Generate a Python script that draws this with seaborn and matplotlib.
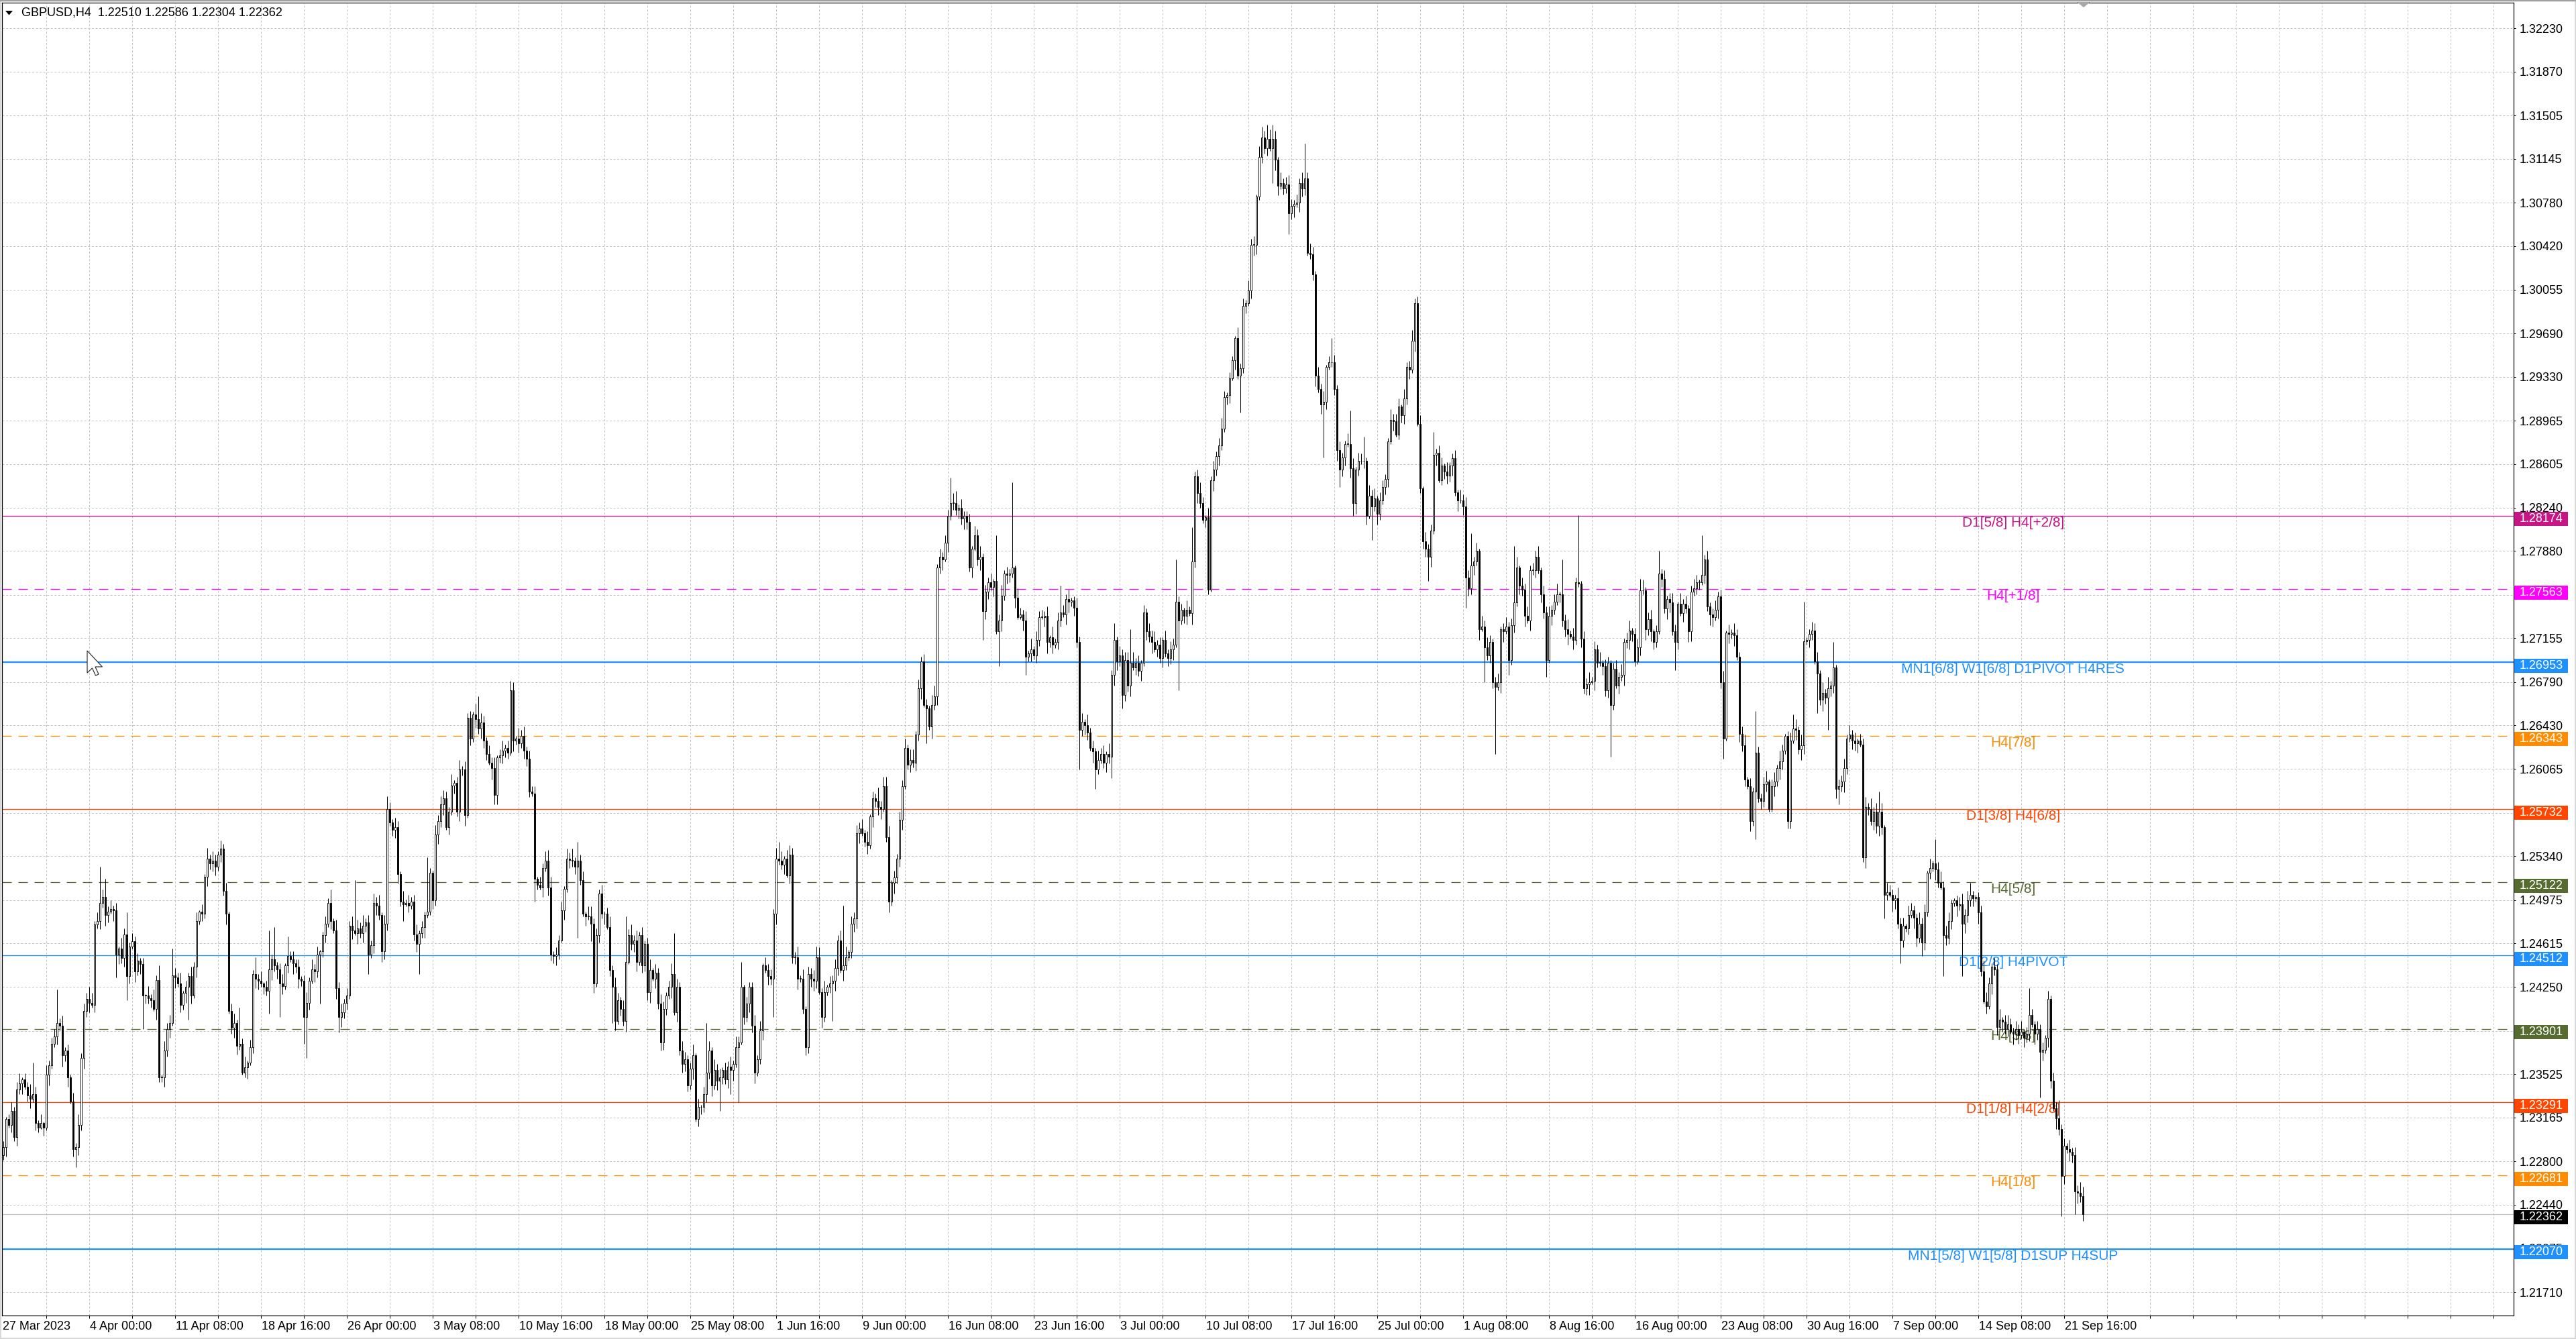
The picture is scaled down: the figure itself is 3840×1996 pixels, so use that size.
import numpy as np
import pandas as pd
import matplotlib
matplotlib.use("Agg")
import matplotlib.pyplot as plt
import matplotlib.transforms as mtransforms
from matplotlib.patches import Rectangle, Polygon
import seaborn as sns

# ---------------------------------------------------------------- data
header_symbol = "GBPUSD,H4"
header_ohlc = ["1.22510", "1.22586", "1.22304", "1.22362"]

price_base = 1.20000      # prices below are pips above this base
pip = 0.0001
first_bar = 3             # bar 0 = 27 Mar 2023 00:00 (H4 bars, weekdays only)
first_open = 283.0

close_pips = [
    285, 292, 315, 310, 322, 300, 340, 345, 348, 342, 335, 332, 336, 312, 308, 312, 308, 352, 360, 378,
    384, 395, 393, 368, 372, 350, 330, 290, 292, 310, 366, 405, 415, 412, 410, 477, 480, 495, 500, 485,
    488, 490, 489, 452, 457, 449, 469, 434, 459, 463, 438, 447, 444, 418, 418, 416, 414, 407, 431, 350,
    350, 372, 390, 395, 435, 433, 428, 410, 420, 425, 434, 418, 442, 480, 488, 486, 517, 532, 528, 530,
    525, 535, 540, 505, 486, 405, 391, 395, 376, 378, 354, 358, 362, 375, 436, 432, 430, 428, 425, 422,
    440, 448, 443, 440, 428, 426, 443, 451, 448, 445, 442, 432, 430, 400, 412, 430, 440, 438, 452, 455,
    468, 478, 495, 480, 472, 424, 400, 404, 412, 418, 476, 472, 470, 474, 470, 476, 479, 452, 460, 495,
    493, 485, 455, 478, 573, 562, 556, 558, 519, 496, 494, 495, 493, 496, 469, 461, 470, 475, 485, 488,
    520, 497, 552, 563, 577, 582, 558, 571, 593, 595, 571, 606, 606, 568, 649, 632, 652, 648, 640, 645,
    630, 619, 612, 607, 585, 616, 618, 622, 624, 620, 672, 630, 632, 628, 634, 622, 615, 588, 586, 515,
    510, 508, 524, 530, 508, 452, 451, 452, 464, 489, 507, 532, 531, 530, 525, 530, 514, 486, 484, 484,
    478, 428, 468, 503, 486, 486, 475, 439, 425, 397, 414, 407, 397, 446, 468, 461, 464, 446, 468, 443,
    461, 421, 439, 432, 437, 411, 379, 407, 418, 425, 436, 404, 425, 372, 361, 365, 343, 357, 368, 315,
    325, 325, 336, 354, 372, 343, 356, 347, 350, 356, 348, 359, 356, 361, 375, 379, 425, 400, 411, 425,
    393, 354, 365, 389, 443, 439, 434, 432, 486, 532, 530, 527, 532, 518, 535, 450, 450, 432, 432, 407,
    375, 436, 432, 430, 450, 421, 400, 421, 425, 428, 430, 441, 464, 439, 443, 450, 454, 478, 482, 553,
    557, 553, 546, 543, 567, 582, 580, 575, 573, 592, 550, 496, 512, 516, 532, 564, 592, 624, 610, 614,
    612, 635, 674, 696, 660, 657, 642, 660, 667, 774, 783, 781, 795, 817, 828, 828, 822, 824, 815, 817,
    812, 774, 790, 801, 781, 783, 738, 754, 762, 758, 763, 721, 730, 751, 769, 768, 769, 774, 749, 733,
    735, 730, 700, 703, 706, 701, 714, 733, 733, 734, 712, 716, 710, 712, 730, 737, 735, 748, 746, 747,
    741, 712, 639, 646, 643, 637, 624, 621, 606, 614, 619, 612, 619, 617, 685, 714, 696, 701, 668, 697,
    676, 695, 691, 695, 688, 695, 737, 721, 717, 712, 706, 710, 699, 714, 703, 699, 706, 710, 746, 730,
    739, 734, 739, 736, 779, 850, 836, 828, 814, 816, 756, 847, 856, 867, 876, 890, 916, 918, 932, 947,
    965, 934, 940, 992, 994, 1005, 1043, 1043, 1083, 1116, 1132, 1123, 1131, 1123, 1131, 1114, 1092, 1094, 1090, 1093,
    1069, 1075, 1077, 1078, 1094, 1090, 1098, 1036, 1035, 1018, 934, 923, 910, 912, 941, 945, 945, 923, 872, 856,
    866, 877, 877, 857, 828, 856, 863, 863, 863, 817, 834, 825, 832, 819, 830, 841, 848, 879, 897, 896,
    885, 908, 901, 915, 941, 939, 963, 994, 894, 840, 796, 790, 783, 805, 868, 870, 847, 859, 854, 851,
    859, 865, 837, 830, 830, 825, 766, 757, 776, 779, 788, 723, 725, 708, 701, 712, 679, 675, 679, 723,
    721, 725, 697, 726, 745, 774, 759, 756, 734, 730, 772, 772, 783, 772, 752, 737, 697, 734, 739, 746,
    752, 752, 730, 723, 719, 717, 714, 762, 761, 715, 674, 677, 679, 680, 706, 695, 695, 692, 672, 695,
    660, 690, 676, 683, 685, 712, 714, 722, 719, 696, 708, 755, 755, 723, 731, 721, 712, 721, 769, 765,
    740, 748, 745, 721, 712, 744, 736, 744, 740, 721, 754, 757, 762, 762, 768, 781, 742, 735, 733, 739,
    750, 679, 632, 720, 719, 720, 718, 700, 636, 626, 598, 592, 563, 588, 620, 582, 580, 594, 596, 573,
    592, 596, 607, 613, 622, 634, 563, 630, 640, 639, 623, 626, 713, 714, 719, 722, 696, 686, 664, 670,
    666, 674, 676, 691, 590, 592, 596, 607, 632, 635, 630, 628, 630, 627, 533, 575, 573, 563, 571, 559,
    571, 558, 502, 504, 502, 497, 499, 478, 464, 476, 474, 485, 489, 483, 466, 478, 462, 487, 520, 524,
    528, 523, 512, 508, 468, 466, 480, 495, 497, 493, 494, 478, 485, 497, 502, 499, 500, 487, 438, 413,
    409, 428, 442, 440, 392, 398, 396, 390, 394, 388, 386, 390, 385, 388, 383, 386, 402, 394, 386, 390,
    371, 373, 383, 415, 347, 324, 316, 307, 268, 293, 290, 288, 285, 255, 254, 251, 236.2,
]

# ordinary wick lengths (pips), one digit per bar
up_wick_digits = (
    "35247368254936271845" "62483527394652837461" "47362958374625183947" "28573649253847162938"
    "53947268354926374815" "74635829473625938471" "36482957364827593648" "59274638529374682537"
    "42857364925837462958" "63749258364729583746" "27485936472859364728" "84637259486372594837"
    "35927486359274863592" "72648395726483957264" "49382756493827564938" "26574839265748392657"
    "58392647583926475839" "93746528937465289374" "47285936472859364728" "64829375648293756482"
    "38572946385729463857" "75946283759462837594" "52837469528374695283" "29463857294638572946"
    "86374925863749258637" "43958276439582764395" "67284593672845936728" "34729586347295863472"
    "58463927584639275846" "92658374926583749265" "25749368257493682574" "73586294735862947358"
    "46927385469273854692" "68395247683952476839" "39472658394726583947" "57286439572864395728"
    "24695873246958732469" "85374926853749268537" "46283759462837594628"
)
low_wick_digits = (
    "54826374925836417293" "37495826374958263749" "62938475629384756293" "48572936485729364857"
    "73649258736492587364" "29584736295847362958" "56372948563729485637" "84926357849263578492"
    "37485926374859263748" "65293847652938476529" "42837569428375694283" "78364925783649257836"
    "53928476539284765392" "26475938264759382647" "69348275693482756934" "35786294357862943578"
    "82463957824639578246" "47592836475928364759" "63825947638259476382" "28947365289473652894"
    "74358629743586297435" "59264837592648375926" "36729584367295843672" "83546279835462798354"
    "45938762459387624593" "67284953672849536728" "24675839246758392467" "58392746583927465839"
    "92846375928463759284" "37569284375692843756" "64273958642739586427" "49835627498356274983"
    "75628493756284937562" "28497365284973652849" "53768249537682495376" "86352974863529748635"
    "39428657394286573942" "62957384629573846295" "47386295473862954738"
)
# long wicks (bar index: pips)
up_wick_spikes = {
    15: 26, 24: 28, 36: 10, 40: 30, 42: 15, 50: 18, 62: 12, 67: 22, 85: 7, 92: 30, 98: 14, 103: 32,
    105: 27, 110: 16, 126: 11, 135: 42, 147: 11, 162: 45, 168: 7, 181: 19, 193: 8, 207: 9, 218: 16,
    219: 5, 236: 38, 254: 34, 266: 41, 279: 21, 293: 14, 297: 8, 307: 9, 317: 50, 330: 11, 333: 8,
    357: 21, 359: 10, 374: 38, 380: 71, 398: 22, 418: 14, 424: 28, 429: 6, 441: 35, 447: 29, 461: 5,
    473: 9, 475: 12, 477: 12, 489: 29, 499: 20, 506: 28, 511: 20, 530: 4, 537: 19, 551: 27, 567: 47,
    575: 5, 585: 29, 591: 56, 614: 10, 621: 19, 637: 33, 657: 35, 671: 12, 675: 33, 686: 21, 692: 8,
    703: 17, 724: 20, 737: 10, 759: 22, 766: 7, 770: 15, 779: 7.6,
}
low_wick_spikes = {
    3: 11, 31: 15, 46: 19, 50: 20, 56: 28, 62: 4, 73: 27, 93: 2, 103: 19, 107: 28, 116: 22, 117: 34,
    122: 41, 129: 13, 140: 16, 146: 7, 153: 14, 159: 25, 176: 9, 187: 8, 202: 19, 210: 8, 218: 59,
    223: 15, 231: 30, 244: 7, 250: 6, 263: 6, 271: 25, 275: 20, 278: 46, 291: 32, 303: 7, 309: 9,
    313: 31, 326: 7, 334: 9, 348: 29, 350: 10, 369: 24, 375: 29, 385: 15, 405: 33, 411: 16, 417: 18,
    421: 11, 442: 58, 453: 4, 465: 31, 477: 29, 483: 17, 496: 44, 502: 15, 507: 11, 514: 28, 535: 20,
    549: 25, 556: 29, 560: 56, 565: 12, 579: 14, 594: 6, 603: 43, 627: 23, 645: 17, 657: 40, 670: 6,
    680: 33, 684: 27, 688: 13, 697: 4, 705: 20, 711: 19, 719: 11, 727: 34, 734: 44, 763: 38, 771: 34,
    776: 19, 779: 5.8,
}

ytick_values = [1.32230, 1.31870, 1.31505, 1.31145, 1.30780, 1.30420, 1.30055, 1.29690, 1.29330,
                1.28965, 1.28605, 1.28240, 1.27880, 1.27515, 1.27155, 1.26790, 1.26430, 1.26065,
                1.25700, 1.25340, 1.24975, 1.24615, 1.24250, 1.23885, 1.23525, 1.23165, 1.22800,
                1.22440, 1.22075, 1.21710]

first_date_label = "27 Mar 2023"
xtick_labels = ["4 Apr 00:00", "11 Apr 08:00", "18 Apr 16:00", "26 Apr 00:00", "3 May 08:00",
                "10 May 16:00", "18 May 00:00", "25 May 08:00", "1 Jun 16:00", "9 Jun 00:00",
                "16 Jun 08:00", "23 Jun 16:00", "3 Jul 00:00", "10 Jul 08:00", "17 Jul 16:00",
                "25 Jul 00:00", "1 Aug 08:00", "8 Aug 16:00", "16 Aug 00:00", "23 Aug 08:00",
                "30 Aug 16:00", "7 Sep 00:00", "14 Sep 08:00", "21 Sep 16:00"]
first_label_bar = 36      # "4 Apr 00:00"; one label every 32 bars, grid every 16 bars

level_prices = [1.28174, 1.27563, 1.26953, 1.26343, 1.25732, 1.25122,
                1.24512, 1.23901, 1.23291, 1.22681, 1.22070]
level_labels = ["D1[5/8] H4[+2/8]", "H4[+1/8]", "MN1[6/8] W1[6/8] D1PIVOT H4RES", "H4[7/8]",
                "D1[3/8] H4[6/8]", "H4[5/8]", "D1[2/8] H4PIVOT", "H4[3/8]", "D1[1/8] H4[2/8]",
                "H4[1/8]", "MN1[5/8] W1[5/8] D1SUP H4SUP"]
level_colors = ["#C71585", "#FF00FF", "#1E90FF", "#FF8C00", "#FF4500", "#556B2F",
                "#1E90FF", "#556B2F", "#FF4500", "#FF8C00", "#1E90FF"]
level_dashed = [False, True, False, True, False, True, False, True, False, True, False]
level_thick = [False, False, True, False, False, False, False, False, False, False, True]
bid_price = 1.22362

# ---------------------------------------------------------------- geometry
FW, FH, DPI = 3840, 1996, 100
PT = 72.0 / DPI                    # points per pixel
AX_L, AX_R, AX_T, AX_B = 3, 3747, 4, 1961
Y_TOP, Y_BOT = 1.324444, 1.215160
X_LEFT, X_RIGHT = 3.575, 939.575   # bar units (4 px per bar)
PX_PER_PRICE = (AX_B - AX_T) / (Y_TOP - Y_BOT)
PX_PER_BAR = (AX_R - AX_L) / (X_RIGHT - X_LEFT)

sns.set_theme(style="white")
plt.rcParams["font.family"] = ["Liberation Sans", "DejaVu Sans"]
plt.rcParams["lines.scale_dashes"] = False

fig = plt.figure(figsize=(FW / DPI, FH / DPI), dpi=DPI, facecolor="white")
ax = fig.add_axes([AX_L / FW, 1 - AX_B / FH, (AX_R - AX_L) / FW, (AX_B - AX_T) / FH])
ax.set_facecolor("white")
ax.set_xlim(X_LEFT, X_RIGHT)
ax.set_ylim(Y_BOT, Y_TOP)
ax.set_axisbelow(True)

# ---------------------------------------------------------------- candles
n = len(close_pips)
if n != 777:
    raise SystemExit(f"close count {n}")
bars = np.arange(first_bar, first_bar + n)
closes = np.array(close_pips, dtype=float)
opens = np.concatenate([[first_open], closes[:-1]])
upw = np.array([float(ch) for ch in up_wick_digits[:n]])
low = np.array([float(ch) for ch in low_wick_digits[:n]])
for b, v in up_wick_spikes.items():
    upw[b - first_bar] = v
for b, v in low_wick_spikes.items():
    low[b - first_bar] = v
highs = np.maximum(opens, closes) + upw
lows = np.minimum(opens, closes) - low

df = pd.DataFrame({
    "bar": bars,
    "open": price_base + opens * pip,
    "high": price_base + highs * pip,
    "low": price_base + lows * pip,
    "close": price_base + closes * pip,
})
df["bull"] = df["close"] >= df["open"]
df["body_lo"] = df[["open", "close"]].min(axis=1)
df["body_h"] = (df["close"] - df["open"]).abs().clip(lower=0.3 * pip)

ax.vlines(df["bar"], df["low"], df["high"], colors="black", linewidth=1.0 * PT, zorder=4)
bull = df[df["bull"]]
bear = df[~df["bull"]]
ax.bar(bull["bar"], bull["body_h"], bottom=bull["body_lo"], width=0.55, color="white",
       edgecolor="black", linewidth=0.9 * PT, zorder=5)
ax.bar(bear["bar"], bear["body_h"], bottom=bear["body_lo"], width=0.55, color="black",
       edgecolor="black", linewidth=0.9 * PT, zorder=5)

# ---------------------------------------------------------------- grid / ticks
grid_bars = list(range(first_label_bar - 16, int(X_RIGHT) + 1, 16))
ax.set_xticks(grid_bars)
ax.set_xticklabels([""] * len(grid_bars))
ax.set_yticks(ytick_values)
ax.set_yticklabels([f"{v:.5f}" for v in ytick_values])
ax.yaxis.tick_right()
ax.tick_params(axis="y", which="both", direction="out", length=3 * PT, width=1 * PT,
               pad=6 * PT, labelsize=13, colors="black", right=True, left=False)
ax.tick_params(axis="x", which="both", direction="out", length=4 * PT, width=1 * PT,
               colors="black", bottom=True)
ax.grid(True, color="#C4C4C4", linestyle=(0, (2.2, 1.8)), linewidth=1 * PT)
for s in ax.spines.values():
    s.set_color("black")
    s.set_linewidth(1.2 * PT)
    s.set_visible(True)

# x labels (left aligned at their tick)
xlab_y = -(1977.5 - AX_B) / (AX_B - AX_T)
xtr = mtransforms.blended_transform_factory(ax.transData, ax.transAxes)
ax.text(X_LEFT + 0.3, xlab_y, first_date_label, transform=xtr, ha="left", va="center",
        fontsize=13, color="black", clip_on=False)
for k, lab in enumerate(xtick_labels):
    ax.text(first_label_bar + 32 * k + 0.4, xlab_y, lab, transform=xtr, ha="left",
            va="center", fontsize=13, color="black", clip_on=False)

# ---------------------------------------------------------------- levels
label_bar = 753
for p, lab, col, dashed, thick in zip(level_prices, level_labels, level_colors,
                                      level_dashed, level_thick):
    ls = (0, (14 * PT, 10 * PT)) if dashed else "-"
    lw = (2.3 if thick else 1.3) * PT
    ax.axhline(p, color=col, linewidth=lw, linestyle=ls, zorder=2)
    ax.text(label_bar, p - 1.0 / PX_PER_PRICE, lab, color=col, fontsize=15, ha="center",
            va="top", zorder=3)
ax.axhline(bid_price, color="#C0C0C0", linewidth=1.2 * PT, zorder=2)

# price boxes on the right scale
ytr = mtransforms.blended_transform_factory(ax.transAxes, ax.transData)
box_x0 = (3748 - AX_L) / (AX_R - AX_L)
box_w = (3828 - 3748) / (AX_R - AX_L)
text_x = (3756 - AX_L) / (AX_R - AX_L)
hh = 10.5 / PX_PER_PRICE
off = 5.0 / PX_PER_PRICE
box_prices = level_prices + [bid_price]
box_colors = level_colors + ["black"]
for p, col in zip(box_prices, box_colors):
    ax.add_patch(Rectangle((box_x0, p - off - hh), box_w, 2 * hh, transform=ytr,
                           facecolor=col, edgecolor="none", clip_on=False, zorder=10))
    ax.text(text_x, p - off, f"{p:.5f}", transform=ytr, color="white", fontsize=13,
            ha="left", va="center", clip_on=False, zorder=11)

# ---------------------------------------------------------------- header & frame
def fx(px):
    return px / FW


def fy(py):
    return 1 - py / FH


fig.text(fx(32), fy(19.5), f"{header_symbol}  " + " ".join(header_ohlc), fontsize=13,
         color="black", ha="left", va="center")
fig.patches.append(Polygon([[fx(8), fy(16)], [fx(19), fy(16)], [fx(13.5), fy(22.5)]],
                           closed=True, transform=fig.transFigure, facecolor="black",
                           edgecolor="none"))
# chart shift marker at the top border
fig.patches.append(Polygon([[fx(3096), fy(3)], [fx(3116), fy(3)], [fx(3106), fy(11)]],
                           closed=True, transform=fig.transFigure, facecolor="#A8A8A8",
                           edgecolor="none"))
# mouse cursor
cur = np.array([[0, 0], [0, 33], [7.5, 26], [12.5, 37], [17, 35], [12, 24], [22.5, 24]])
cur_pts = [[fx(130 + a), fy(970 + b)] for a, b in cur]
fig.patches.append(Polygon(cur_pts, closed=True, transform=fig.transFigure,
                           facecolor="white", edgecolor="#303030", linewidth=1.2 * PT,
                           zorder=20))
# window frame
fig.patches.append(Rectangle((0, 0), 1, 1, transform=fig.transFigure, fill=False,
                             edgecolor="#D8D8D8", linewidth=4 * PT))
fig.lines.append(plt.Line2D([0, 1], [fy(1), fy(1)], transform=fig.transFigure,
                            color="#A0A0A0", linewidth=2.5 * PT))

fig.savefig("out.png", dpi=DPI, facecolor="white")
